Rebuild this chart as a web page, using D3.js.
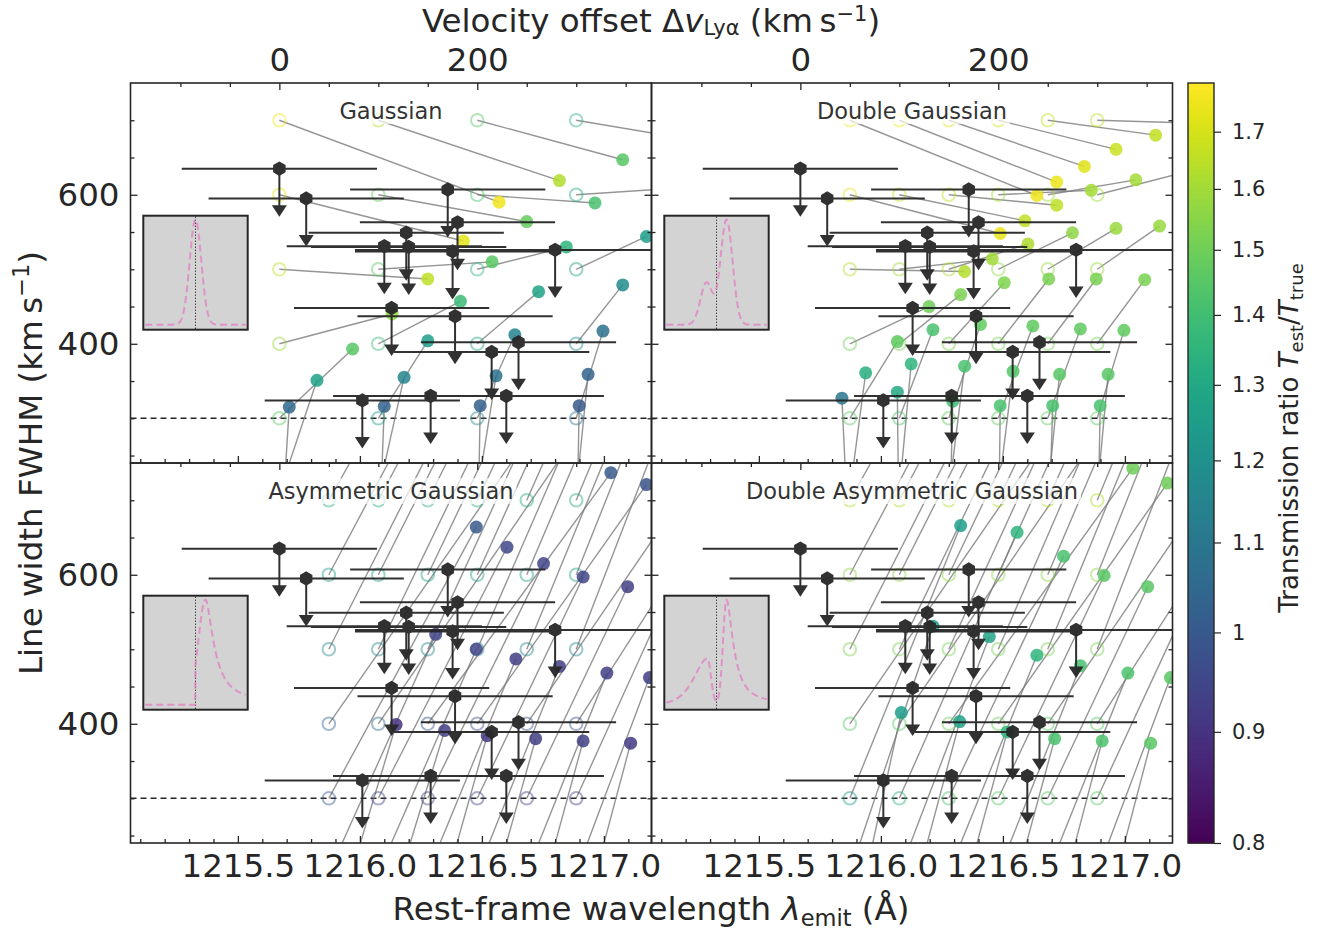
<!DOCTYPE html>
<html><head><meta charset="utf-8">
<script src="https://cdn.jsdelivr.net/npm/d3@7/dist/d3.min.js"></script>
<style>
html,body{margin:0;padding:0;background:#fff;}
svg{display:block;font-family:"DejaVu Sans",sans-serif;}
</style></head><body>
<svg id="chart" width="1317" height="934"></svg>
<script>
const LYA = 1215.67, CKMS = 299792.458;

// ---------------- data ----------------
const trueFwhm = [700, 600, 500, 400, 300, 200, 100];
const trueVelGauss = [0, 100, 200, 300];
const trueVelOther = [50, 100, 150, 200, 250, 300];

// Gaussian panel: rows follow trueFwhm, columns follow trueVelGauss
const estVelGauss = [
  [222, 283, 347, 425],
  [186, 250, 319, 414],
  [150, 215, 290, 371],
  [114, 183, 262, 347],
  [74, 150, 238, 327],
  [38, 126, 219, 312],
  [10, 106, 203, 303]];
const estFwhmGauss = [
  [590, 619, 647, 672],
  [538, 564, 589, 610],
  [487, 510, 530, 544],
  [440, 457, 470, 479],
  [393, 404, 412, 417],
  [351, 355, 357, 359],
  [315, 316, 317, 317]];
const ratioGauss = [
  [1.76, 1.63, 1.45, 1.35],
  [1.73, 1.48, 1.42, 1.30],
  [1.65, 1.45, 1.35, 1.25],
  [1.58, 1.38, 1.28, 1.18],
  [1.45, 1.25, 1.15, 1.08],
  [1.27, 1.15, 1.08, 1.03],
  [1.05, 1.03, 1.02, 1.00]];

// Double Gaussian panel: columns follow trueVelOther
const estVelDG = [
  [239, 259, 287, 319, 359, 404],
  [202, 227, 259, 294, 339, 394],
  [166, 194, 230, 275, 319, 363],
  [130, 162, 206, 251, 299, 348],
  [98, 134, 182, 235, 283, 327],
  [66, 112, 166, 215, 262, 311],
  [42, 98, 154, 202, 255, 303]];
const estFwhmDG = [
  [599, 617, 638, 661, 680, 696],
  [548, 565, 586, 606, 620, 632],
  [497, 514, 534, 549, 555, 558],
  [450, 466, 482, 487, 487, 486],
  [403, 419, 426, 424, 420, 418],
  [361, 373, 370, 363, 359, 359],
  [327, 335, 323, 317, 317, 317]];
const ratioDG = [
  [1.76, 1.75, 1.72, 1.68, 1.66, 1.65],
  [1.74, 1.66, 1.65, 1.60, 1.60, 1.60],
  [1.63, 1.60, 1.62, 1.56, 1.58, 1.58],
  [1.50, 1.52, 1.53, 1.52, 1.52, 1.52],
  [1.47, 1.42, 1.47, 1.47, 1.47, 1.47],
  [1.33, 1.35, 1.42, 1.44, 1.45, 1.45],
  [1.10, 1.30, 1.40, 1.42, 1.42, 1.42]];

// Asymmetric Gaussian panel (upper rows land above the plotted range)
const estVelAG = [
  [240, 280, 320, 360, 400, 440],
  [250, 290, 330, 370, 410, 450],
  [260, 300, 340, 380, 420, 460],
  [250, 290, 335, 371, 410, 445],
  [199, 230, 267, 307, 352, 393],
  [158, 199, 239, 283, 331, 374],
  [118, 167, 210, 259, 307, 355]];
const estFwhmAG = [
  [1150, 1150, 1150, 1150, 1150, 1150],
  [1100, 1100, 1100, 1100, 1100, 1100],
  [1050, 1050, 1050, 1050, 1050, 1050],
  [780, 768, 737, 721, 711, 700],
  [664, 637, 615, 597, 584, 572],
  [520, 500, 487, 477, 468, 462],
  [399, 391, 384, 380, 377, 374]];
const ratioAG = [
  [1.30, 1.30, 1.30, 1.30, 1.30, 1.30],
  [1.25, 1.25, 1.25, 1.25, 1.25, 1.25],
  [1.15, 1.15, 1.15, 1.15, 1.15, 1.15],
  [1.05, 1.05, 1.00, 0.98, 1.00, 1.00],
  [1.00, 0.95, 0.94, 0.94, 0.93, 0.93],
  [0.94, 0.94, 0.93, 0.93, 0.93, 0.93],
  [0.90, 0.93, 0.92, 0.93, 0.93, 0.92]];

// Double Asymmetric Gaussian panel
const estVelDAG = [
  [240, 280, 320, 360, 400, 440],
  [250, 290, 330, 370, 410, 450],
  [260, 300, 340, 380, 420, 460],
  [250, 290, 336, 371, 410, 445],
  [162, 219, 266, 307, 351, 394],
  [134, 191, 239, 283, 331, 374],
  [102, 161, 209, 257, 305, 354]];
const estFwhmDAG = [
  [1150, 1150, 1150, 1150, 1150, 1150],
  [1100, 1100, 1100, 1100, 1100, 1100],
  [1050, 1050, 1050, 1050, 1050, 1050],
  [785, 768, 743, 723, 711, 700],
  [666, 657, 625, 599, 584, 569],
  [531, 517, 492, 478, 468, 462],
  [415, 403, 389, 380, 377, 374]];
const ratioDAG = [
  [1.62, 1.62, 1.62, 1.62, 1.62, 1.62],
  [1.56, 1.56, 1.56, 1.56, 1.56, 1.56],
  [1.52, 1.52, 1.52, 1.52, 1.52, 1.52],
  [1.45, 1.45, 1.50, 1.50, 1.45, 1.45],
  [1.25, 1.35, 1.42, 1.45, 1.45, 1.45],
  [1.25, 1.28, 1.35, 1.42, 1.43, 1.45],
  [1.25, 1.27, 1.35, 1.42, 1.43, 1.45]];

// observed galaxies (upper limits on FWHM)
const obsLambda = [1215.67, 1215.78, 1216.36, 1216.40, 1216.19, 1216.10, 1216.20, 1216.38,
                   1216.80, 1216.13, 1216.39, 1216.54, 1216.65, 1216.01, 1216.29, 1216.60];
const obsLambdaErr = [0.40, 0.40, 0.40, 0.40, 0.40, 0.40, 0.40, 0.40,
                      0.82, 0.40, 0.40, 0.40, 0.40, 0.40, 0.40, 0.40];
const obsFwhm = [635, 595, 607, 563, 549, 531, 530, 524,
                 526, 448, 437, 389, 402, 324, 330, 330];

const fwhmLimitLine = 300;

// ticks
const velMajorTicks = [0, 200];
const velMinorTicks = [-100, -50, 50, 100, 150, 250, 300, 350];
const lamMajorTicks = [1215.5, 1216.0, 1216.5, 1217.0];
const lamMinorTicks = [1215.1, 1215.2, 1215.3, 1215.4, 1215.6, 1215.7, 1215.8, 1215.9,
                       1216.1, 1216.2, 1216.3, 1216.4, 1216.6, 1216.7, 1216.8, 1216.9, 1217.1];
const fwhmMajorTicks = [400, 600];
const fwhmMinorTicks = [250, 300, 350, 450, 500, 550, 650, 700];
const ratioTicks = [0.8, 0.9, 1, 1.1, 1.2, 1.3, 1.4, 1.5, 1.6, 1.7];
const ratioDomain = [0.8, 1.79];
const panelTitles = ["Gaussian", "Double Gaussian", "Asymmetric Gaussian", "Double Asymmetric Gaussian"];

// inset profile parameters (schematic line shapes)
const insetGauss = [{c: 0.5, s: 0.058, a: 1}];
const insetDouble = [{c: 0.40, s: 0.06, a: 0.40}, {c: 0.60, s: 0.06, a: 1}];

// ---------------- drawing ----------------
const svg = d3.select("#chart");
const INK = "#262626";
const FS = 32.5;
const PW = 521, PH = 380;
const x = d3.scaleLinear().domain([1215.06, 1217.195]).range([0, PW]);
const y = d3.scaleLinear().domain([240, 750]).range([PH, 0]);
const v2l = v => LYA * (1 + v / CKMS);
const vScale = d3.scaleLinear().domain(x.domain().map(l => (l / LYA - 1) * CKMS)).range([0, PW]);
const color = d3.scaleSequentialLog(d3.interpolateViridis).domain(ratioDomain);
const defs = svg.append("defs");

const gaussSum = comps => t => d3.sum(comps, c => c.a * Math.exp(-((t - c.c) ** 2) / (2 * c.s * c.s)));
const asymR = (t, c, d, a) => { const D = t - c; const w = a * D + d; return w <= 0 ? 0 : Math.exp(-D * D / (2 * w * w)); };
const profAsym = t => {
  if (t < 0.5) return 0;
  const D = t - 0.6;
  if (D < 0) return Math.exp(-D * D / (2 * 0.072 * 0.072));
  return asymR(t, 0.6, 0.053, 0.326);
};
const profDoubleAsym = t => {
  let b;
  const Db = t - 0.41;
  if (Db < 0) { const w = 0.113 - 0.127 * Db; b = 0.44 * Math.exp(-Db * Db / (2 * w * w)); }
  else b = 0.44 * Math.exp(-Db * Db / (2 * 0.035 * 0.035));
  const Dr = t - 0.6;
  let r;
  if (Dr < 0) r = Math.exp(-Dr * Dr / (2 * 0.035 * 0.035));
  else r = asymR(t, 0.6, 0.045, 0.3);
  return b + r;
};

const panels = [
  {ox: 130.5, oy: 83, tv: trueVelGauss, ev: estVelGauss, ef: estFwhmGauss, r: ratioGauss, prof: gaussSum(insetGauss), top: true, left: true},
  {ox: 651.5, oy: 83, tv: trueVelOther, ev: estVelDG, ef: estFwhmDG, r: ratioDG, prof: gaussSum(insetDouble), top: true, left: false},
  {ox: 130.5, oy: 463, tv: trueVelOther, ev: estVelAG, ef: estFwhmAG, r: ratioAG, prof: profAsym, top: false, left: true},
  {ox: 651.5, oy: 463, tv: trueVelOther, ev: estVelDAG, ef: estFwhmDAG, r: ratioDAG, prof: profDoubleAsym, top: false, left: false}
];

const obs = obsLambda.map((l, i) => ({l, e: obsLambdaErr[i], f: obsFwhm[i]}));

function styleAxis(sel, fs) {
  sel.select(".domain").remove();
  sel.selectAll(".tick line").attr("stroke", INK);
  sel.selectAll(".tick text").attr("fill", INK).attr("font-size", fs).attr("font-family", "DejaVu Sans");
  sel.attr("font-family", null).attr("font-size", null);
}

panels.forEach((p, i) => {
  const g = svg.append("g").attr("transform", `translate(${p.ox},${p.oy})`);
  defs.append("clipPath").attr("id", "clip" + i).append("rect").attr("width", PW).attr("height", PH);
  const inner = g.append("g").attr("clip-path", `url(#clip${i})`);

  const recs = [];
  trueFwhm.forEach((f, ri) => p.tv.forEach((v, ci) => recs.push({
    tv: v, tf: f, ev: p.ev[ri][ci], ef: p.ef[ri][ci], r: p.r[ri][ci]})));

  inner.append("line").attr("x1", 0).attr("x2", PW)
    .attr("y1", y(fwhmLimitLine)).attr("y2", y(fwhmLimitLine))
    .attr("stroke", INK).attr("stroke-width", 1.5).attr("stroke-dasharray", "6,4");

  inner.selectAll("line.conn").data(recs).join("line").attr("class", "conn")
    .attr("x1", d => x(v2l(d.tv))).attr("y1", d => y(d.tf))
    .attr("x2", d => x(v2l(d.ev))).attr("y2", d => y(d.ef))
    .attr("stroke", "#7a7a7a").attr("stroke-opacity", 0.8).attr("stroke-width", 1.4);

  inner.selectAll("circle.tru").data(recs).join("circle").attr("class", "tru")
    .attr("cx", d => x(v2l(d.tv))).attr("cy", d => y(d.tf)).attr("r", 6.3)
    .attr("fill", "none").attr("stroke", d => color(d.r)).attr("stroke-width", 2).attr("stroke-opacity", 0.45);

  inner.selectAll("circle.est").data(recs).join("circle").attr("class", "est")
    .attr("cx", d => x(v2l(d.ev))).attr("cy", d => y(d.ef)).attr("r", 6.5)
    .attr("fill", d => color(d.r)).attr("fill-opacity", 0.85);

  const og = inner.append("g").attr("opacity", 0.95);
  og.selectAll("line.err").data(obs).join("line").attr("class", "err")
    .attr("x1", d => x(d.l - d.e)).attr("x2", d => x(d.l + d.e))
    .attr("y1", d => y(d.f)).attr("y2", d => y(d.f))
    .attr("stroke", INK).attr("stroke-width", 2);
  og.selectAll("line.arr").data(obs).join("line").attr("class", "arr")
    .attr("x1", d => x(d.l)).attr("x2", d => x(d.l))
    .attr("y1", d => y(d.f)).attr("y2", d => y(d.f) + 39)
    .attr("stroke", INK).attr("stroke-width", 2);
  og.selectAll("path.tri").data(obs).join("path").attr("class", "tri")
    .attr("d", d => { const cx = x(d.l), cy = y(d.f) + 42; return `M${cx - 7.5},${cy - 5.5}L${cx + 7.5},${cy - 5.5}L${cx},${cy + 6}Z`; })
    .attr("fill", INK);
  const hex = r => d3.range(6).map(k => { const a = (-90 + 60 * k) * Math.PI / 180; return [r * Math.cos(a), r * Math.sin(a)]; });
  og.selectAll("path.hex").data(obs).join("path").attr("class", "hex")
    .attr("d", d => "M" + hex(7.2).map(q => [q[0] + x(d.l), q[1] + y(d.f)].join(",")).join("L") + "Z")
    .attr("fill", INK);

  // title with translucent box
  const tt = g.append("text").attr("x", PW / 2).attr("y", 36).attr("text-anchor", "middle")
    .attr("font-size", 22.5).attr("fill", "#333").text(panelTitles[i]);
  const bb = tt.node().getBBox();
  g.insert("rect", () => tt.node()).attr("x", bb.x - 3).attr("y", bb.y).attr("width", bb.width + 6).attr("height", bb.height)
    .attr("fill", "#fff").attr("fill-opacity", 0.7);

  // inset
  const ib = {x: 12.8, y: 132.7, w: 104.4, h: 114};
  const ig = g.append("g").attr("transform", `translate(${ib.x},${ib.y})`);
  ig.append("rect").attr("width", ib.w).attr("height", ib.h).attr("fill", "#d3d3d3").attr("stroke", INK).attr("stroke-width", 2);
  const xs = d3.scaleLinear().domain([0, 1]).range([2, ib.w - 2]);
  const ys = d3.scaleLinear().domain([0, 1]).range([ib.h - 5, 4]);
  ig.append("line").attr("x1", xs(0.5)).attr("x2", xs(0.5)).attr("y1", 1).attr("y2", ib.h - 1)
    .attr("stroke", "#000").attr("stroke-width", 1).attr("stroke-dasharray", "1,2");
  ig.append("path").attr("d", d3.line().x(t => xs(t)).y(t => ys(p.prof(t)))(d3.range(0, 1.0001, 0.0025)))
    .attr("fill", "none").attr("stroke", "#e377c2").attr("stroke-opacity", 0.7).attr("stroke-width", 2).attr("stroke-dasharray", "7,4");

  // frame
  g.append("rect").attr("width", PW).attr("height", PH).attr("fill", "none").attr("stroke", INK).attr("stroke-width", 1.6);

  // axes (ticks inward)
  const bot = g.append("g").attr("transform", `translate(0,${PH})`)
    .call(d3.axisBottom(x).tickValues(lamMajorTicks).tickSizeInner(-7).tickSizeOuter(0).tickPadding(11)
      .tickFormat(p.top ? () => "" : d3.format(".1f")));
  styleAxis(bot, FS);
  const botm = g.append("g").attr("transform", `translate(0,${PH})`)
    .call(d3.axisBottom(x).tickValues(lamMinorTicks).tickSizeInner(-4).tickSizeOuter(0).tickFormat(() => ""));
  styleAxis(botm, 10);
  const top = g.append("g")
    .call(d3.axisTop(vScale).tickValues(velMajorTicks).tickSizeInner(-7).tickSizeOuter(0).tickPadding(12)
      .tickFormat(p.top ? d3.format("d") : () => ""));
  styleAxis(top, FS);
  const topm = g.append("g")
    .call(d3.axisTop(vScale).tickValues(velMinorTicks).tickSizeInner(-4).tickSizeOuter(0).tickFormat(() => ""));
  styleAxis(topm, 10);
  const lft = g.append("g")
    .call(d3.axisLeft(y).tickValues(fwhmMajorTicks).tickSizeInner(-7).tickSizeOuter(0).tickPadding(11)
      .tickFormat(p.left ? d3.format("d") : () => ""));
  styleAxis(lft, FS);
  const lftm = g.append("g")
    .call(d3.axisLeft(y).tickValues(fwhmMinorTicks).tickSizeInner(-4).tickSizeOuter(0).tickFormat(() => ""));
  styleAxis(lftm, 10);
  const rgt = g.append("g").attr("transform", `translate(${PW},0)`)
    .call(d3.axisRight(y).tickValues(fwhmMajorTicks).tickSizeInner(-7).tickSizeOuter(0).tickFormat(() => ""));
  styleAxis(rgt, 10);
  const rgtm = g.append("g").attr("transform", `translate(${PW},0)`)
    .call(d3.axisRight(y).tickValues(fwhmMinorTicks).tickSizeInner(-4).tickSizeOuter(0).tickFormat(() => ""));
  styleAxis(rgtm, 10);
  g.selectAll(".tick line").attr("stroke-width", 1.3);
});

// ---------------- colorbar ----------------
const cbX = 1188, cbY = 83, cbW = 26, cbH = 760;
const cy = d3.scaleLog().domain(ratioDomain).range([cbH, 0]);
const cb = svg.append("g").attr("transform", `translate(${cbX},${cbY})`);
const nSteps = 380;
cb.selectAll("rect.s").data(d3.range(nSteps)).join("rect").attr("class", "s")
  .attr("x", 0).attr("width", cbW)
  .attr("y", k => k * cbH / nSteps).attr("height", cbH / nSteps + 0.6)
  .attr("fill", k => color(cy.invert((k + 0.5) * cbH / nSteps)));
cb.append("rect").attr("width", cbW).attr("height", cbH).attr("fill", "none").attr("stroke", INK).attr("stroke-width", 1.4);
const cba = cb.append("g").attr("transform", `translate(${cbW},0)`)
  .call(d3.axisRight(cy).tickValues(ratioTicks).tickSize(7).tickPadding(11)
    .tickFormat(d => d === 1 ? "1" : d3.format(".1f")(d)));
styleAxis(cba, 21);
cba.selectAll(".tick line").attr("stroke-width", 1.2);

// ---------------- axis titles ----------------
const SUB = 21;
const topTitle = svg.append("text").attr("x", 651).attr("y", 32).attr("text-anchor", "middle")
  .attr("font-size", FS).attr("fill", INK);
topTitle.append("tspan").text("Velocity offset Δ");
topTitle.append("tspan").attr("font-style", "italic").text("v");
topTitle.append("tspan").attr("font-size", SUB).attr("dy", 3).text("Lyα");
topTitle.append("tspan").attr("dy", -3).text(" (km\u2009s");
topTitle.append("tspan").attr("font-size", SUB).attr("dy", -11).text("−1");
topTitle.append("tspan").attr("dy", 11).text(")");

const botTitle = svg.append("text").attr("x", 651).attr("y", 920).attr("text-anchor", "middle")
  .attr("font-size", FS).attr("fill", INK);
botTitle.append("tspan").text("Rest-frame wavelength ");
botTitle.append("tspan").attr("font-style", "italic").text("λ");
botTitle.append("tspan").attr("font-size", 22.5).attr("dy", 6).text("emit");
botTitle.append("tspan").attr("dy", -6).text(" (Å)");

const yTitle = svg.append("text").attr("transform", "translate(42,463) rotate(-90)").attr("text-anchor", "middle")
  .attr("font-size", FS).attr("fill", INK);
yTitle.append("tspan").text("Line width FWHM (km\u2009s");
yTitle.append("tspan").attr("font-size", 22.5).attr("dy", -13).text("−1");
yTitle.append("tspan").attr("dy", 13).text(")");

const cTitle = svg.append("text").attr("transform", "translate(1298,438) rotate(-90)").attr("text-anchor", "middle")
  .attr("font-size", 26).attr("fill", INK);
cTitle.append("tspan").text("Transmission ratio ");
cTitle.append("tspan").attr("font-style", "italic").text("T");
cTitle.append("tspan").attr("font-size", 18).attr("dy", 5).text("est");
cTitle.append("tspan").attr("dy", -5).text("/");
cTitle.append("tspan").attr("font-style", "italic").text("T");
cTitle.append("tspan").attr("font-size", 18).attr("dy", 5).text("true");
</script>
</body></html>
